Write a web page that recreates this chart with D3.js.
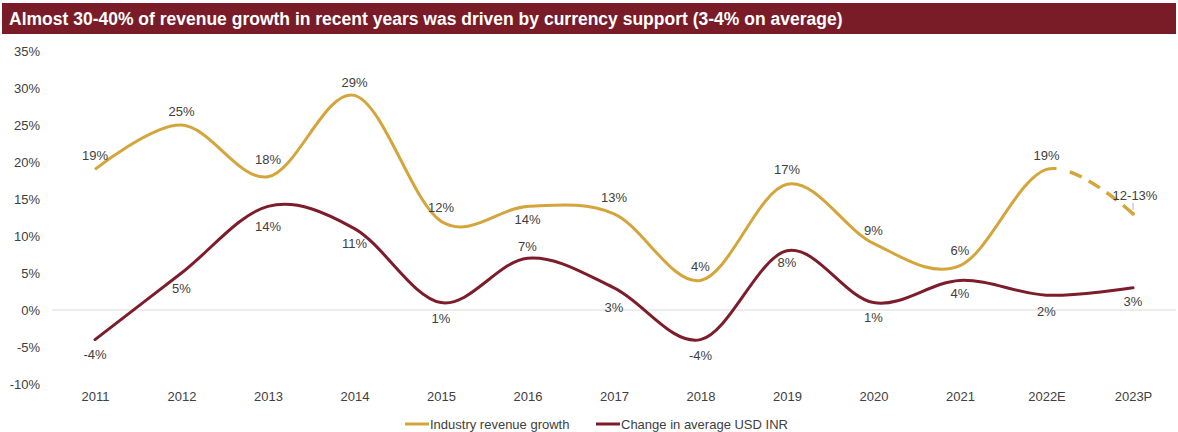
<!DOCTYPE html>
<html>
<head>
<meta charset="utf-8">
<script src="https://cdn.jsdelivr.net/npm/d3@7/dist/d3.min.js"></script>
<style>
  html, body { margin: 0; padding: 0; background: #fff; }
  svg { display: block; font-family: "Liberation Sans", Arial, Helvetica, sans-serif; }
</style>
</head>
<body>
<svg id="chart" width="1178" height="432"></svg>
<script>
// Years on the x axis
const years = ["2011", "2012", "2013", "2014", "2015", "2016", "2017", "2018", "2019", "2020", "2021", "2022E", "2023P"];
// Industry revenue growth, % (2023P is the projected 12-13% range)
const revenueGrowth = [19, 25, 18, 29, 12, 14, 13, 4, 17, 9, 6, 19, 13];
const revenueLabels = ["19%", "25%", "18%", "29%", "12%", "14%", "13%", "4%", "17%", "9%", "6%", "19%", "12-13%"];
// Change in average USD INR, %
const usdInrChange = [-4, 5, 14, 11, 1, 7, 3, -4, 8, 1, 4, 2, 3];
const usdInrLabels = ["-4%", "5%", "14%", "11%", "1%", "7%", "3%", "-4%", "8%", "1%", "4%", "2%", "3%"];
// Y axis ticks, %
const yTicks = [-10, -5, 0, 5, 10, 15, 20, 25, 30, 35];

const title = "Almost 30-40% of revenue growth in recent years was driven by currency support (3-4% on average)";
const gold = "#D4A53B";
const maroon = "#7D1C2A";
const textCol = "#404040";

const svg = d3.select("#chart");

// Title banner
svg.append("rect").attr("x", 2).attr("y", 3).attr("width", 1174).attr("height", 31)
  .attr("fill", "#7A1C28");
svg.append("text").attr("x", 9).attr("y", 25).attr("fill", "#fff")
  .attr("font-size", 17.5).attr("font-weight", "bold").text(title);

const x = d3.scalePoint().domain(years).range([95, 1133]);
const y = d3.scaleLinear().domain([-10, 35]).range([384, 51]);

// Y axis labels
const yAxis = d3.axisLeft(y).tickValues(yTicks).tickFormat(d => d + "%").tickSize(0).tickPadding(0);
const gy = svg.append("g").attr("transform", "translate(40,0)").call(yAxis);
gy.select(".domain").remove();
gy.selectAll("text").attr("fill", textCol).attr("font-size", 13).attr("font-family", "Liberation Sans, Arial, sans-serif");

// X axis labels
const xAxis = d3.axisBottom(x).tickSize(0).tickPadding(0);
const gx = svg.append("g").attr("transform", "translate(0,392)").call(xAxis);
gx.select(".domain").remove();
gx.selectAll("text").attr("fill", textCol).attr("font-size", 13).attr("font-family", "Liberation Sans, Arial, sans-serif");

// Zero line
svg.append("line").attr("x1", 52).attr("x2", 1176).attr("y1", y(0)).attr("y2", y(0))
  .attr("stroke", "#d9d9d9").attr("stroke-width", 1);

const line = d3.line().x((d, i) => x(years[i])).y(d => y(d)).curve(d3.curveCardinal.tension(0));

// Clip regions: actuals up to just past 2022E, projection after it
const split = x("2022E") + 10;
const defs = svg.append("defs");
defs.append("clipPath").attr("id", "clipActual").append("rect")
  .attr("x", 0).attr("y", 0).attr("width", split).attr("height", 432);
defs.append("clipPath").attr("id", "clipProj").append("rect")
  .attr("x", split).attr("y", 0).attr("width", 1178 - split).attr("height", 432);

// USD INR change line
svg.append("path").datum(usdInrChange).attr("d", line)
  .attr("fill", "none").attr("stroke", maroon).attr("stroke-width", 3).attr("stroke-linecap", "round");

// Industry revenue growth: solid actuals, dashed projection
svg.append("path").datum(revenueGrowth).attr("d", line).attr("clip-path", "url(#clipActual)")
  .attr("fill", "none").attr("stroke", gold).attr("stroke-width", 3).attr("stroke-linecap", "butt");
const proj = svg.append("path").datum(revenueGrowth).attr("d", line).attr("clip-path", "url(#clipProj)")
  .attr("fill", "none").attr("stroke", gold).attr("stroke-width", 3.5);

// Find the path length where the projection begins, so the dashes start there
const node = proj.node();
let lo = 0, hi = node.getTotalLength();
for (let k = 0; k < 40; k++) {
  const mid = (lo + hi) / 2;
  if (node.getPointAtLength(mid).x < split) lo = mid; else hi = mid;
}
proj.attr("stroke-dasharray", "0 " + (lo + 13) + " 13 8 13 8 13 8 13 8");

const lastI = years.length - 1;
svg.append("circle").attr("cx", x(years[lastI])).attr("cy", y(revenueGrowth[lastI])).attr("r", 2).attr("fill", gold);
// Leader from the range label to its point
svg.append("line").attr("x1", x(years[lastI])).attr("x2", x(years[lastI]))
  .attr("y1", y(revenueGrowth[lastI]) - 11).attr("y2", y(revenueGrowth[lastI]) - 4)
  .attr("stroke", "#a6a6a6").attr("stroke-width", 0.8);

// Data label offsets: negative = above the point, positive = below
const revOffset = [-14, -14, -17, -13, -14, 13, -16, -14, -15, -13, -15, -14, -18];
const usdOffset = [15, 15, 20, 15, 16, -12, 20, 16, 12, 15, 13, 16, 14];
const revDx = [0, 0, 0, 0, 0, 0, 0, 0, 0, 0, 0, 0, 2];

function addLabels(vals, labels, offsets, dxs) {
  svg.append("g").selectAll("text").data(vals).join("text")
    .attr("x", (d, i) => x(years[i]) + (dxs ? dxs[i] : 0))
    .attr("y", (d, i) => y(d) + offsets[i])
    .attr("dy", "0.35em")
    .attr("text-anchor", "middle")
    .attr("font-size", 13).attr("fill", textCol)
    .text((d, i) => labels[i]);
}
addLabels(revenueGrowth, revenueLabels, revOffset, revDx);
addLabels(usdInrChange, usdInrLabels, usdOffset, null);

// Legend
const legend = [
  { name: "Industry revenue growth", color: gold, x: 405 },
  { name: "Change in average USD INR", color: maroon, x: 596 }
];
const lg = svg.append("g");
legend.forEach(l => {
  lg.append("line").attr("x1", l.x).attr("x2", l.x + 24).attr("y1", 424).attr("y2", 424)
    .attr("stroke", l.color).attr("stroke-width", 3);
  lg.append("text").attr("x", l.x + 25).attr("y", 424).attr("dy", "0.35em")
    .attr("font-size", 13).attr("fill", textCol).text(l.name);
});
</script>
</body>
</html>
